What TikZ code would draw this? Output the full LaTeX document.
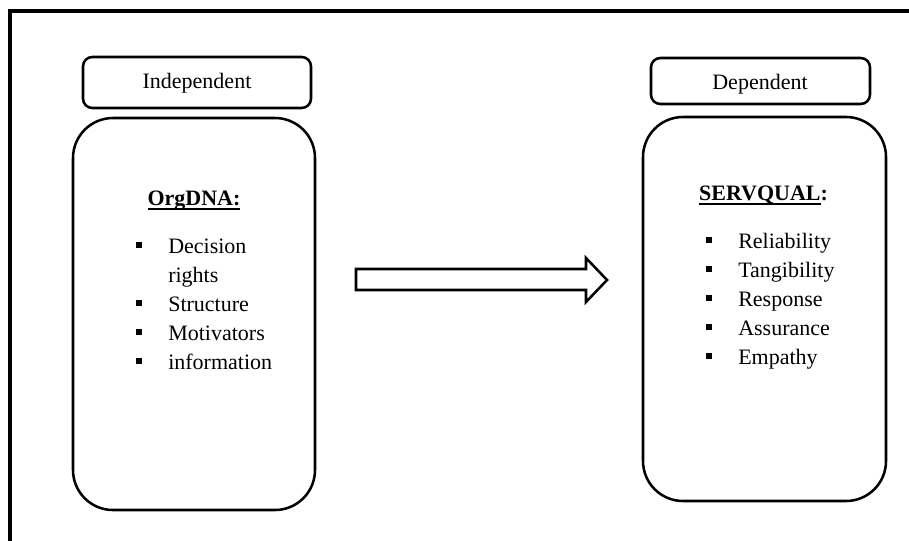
\documentclass[tikz,border=0pt]{standalone}
\usepackage{fontspec}
\setmainfont{Liberation Serif}
% small filled square used as list marker
\newcommand\sqbul{\rule[4pt]{4.6pt}{4.6pt}}
% heavier underline than \underline gives
\newsavebox\ulbox
\newcommand\ulbar[1]{\sbox\ulbox{#1}\rlap{\rule[-3.6pt]{\wd\ulbox}{1.1pt}}\usebox\ulbox}
\begin{document}
\begin{tikzpicture}[x=0.75pt,y=-0.75pt,
  frameline/.style={line width=2.4pt},
  labelbox/.style={draw, line width=1.9pt, rounded corners=7pt, inner sep=0pt},
  groupbox/.style={draw, line width=1.9pt, rounded corners=30pt, inner sep=0pt},
  txt/.style={font=\fontsize{16.5}{20}\selectfont, inner sep=0pt},
  itemtxt/.style={txt, anchor=base west},
  blockarrow/.style={draw, line width=1.9pt, miter limit=10, fill=white},
]
\useasboundingbox (0,0) rectangle (909,540);
\clip (0,0) rectangle (909,540);

% outer frame (runs past the page on the right and bottom)
\draw[frameline] (930,11) -- (10,11) -- (10,560);

% heading boxes
\node[labelbox, minimum width=171pt, minimum height=38.25pt] (indepbox) at (197,82.5) {};
\node[txt, anchor=base] (indeptxt) at (197,88) {Independent};
\node[labelbox, minimum width=164.25pt, minimum height=34.5pt] (depbox) at (760.5,81) {};
\node[txt, anchor=base] (deptxt) at (760,89) {Dependent};

% group boxes
\node[groupbox, minimum width=181.5pt, minimum height=294pt] (orgbox) at (194,314) {};
\node[groupbox, minimum width=182.25pt, minimum height=288pt] (servbox) at (764.5,309) {};

% titles
\node[txt, anchor=base] (orgtitle) at (194,205) {\textbf{\ulbar{OrgDNA:}}};
\node[txt, anchor=base] (servtitle) at (763.5,200) {\textbf{\ulbar{SERVQUAL}:}};

% OrgDNA items
\node[itemtxt] (o1) at (136,253) {\makebox[24pt][l]{\sqbul}Decision};
\node[itemtxt] (o1b) at (136,282) {\hspace*{24pt}rights};
\node[itemtxt] (o2) at (136,311) {\makebox[24pt][l]{\sqbul}Structure};
\node[itemtxt] (o3) at (136,340) {\makebox[24pt][l]{\sqbul}Motivators};
\node[itemtxt] (o4) at (136,369) {\makebox[24pt][l]{\sqbul}information};

% SERVQUAL items
\node[itemtxt] (s1) at (706,248) {\makebox[24pt][l]{\sqbul}Reliability};
\node[itemtxt] (s2) at (706,277) {\makebox[24pt][l]{\sqbul}Tangibility};
\node[itemtxt] (s3) at (706,306) {\makebox[24pt][l]{\sqbul}Response};
\node[itemtxt] (s4) at (706,335) {\makebox[24pt][l]{\sqbul}Assurance};
\node[itemtxt] (s5) at (706,364) {\makebox[24pt][l]{\sqbul}Empathy};

% block arrow between the groups
\draw[blockarrow] (356,269) -- (586,269) -- (586,258) -- (607,280)
  -- (586,302) -- (586,290) -- (356,290) -- cycle;
\end{tikzpicture}
\end{document}
